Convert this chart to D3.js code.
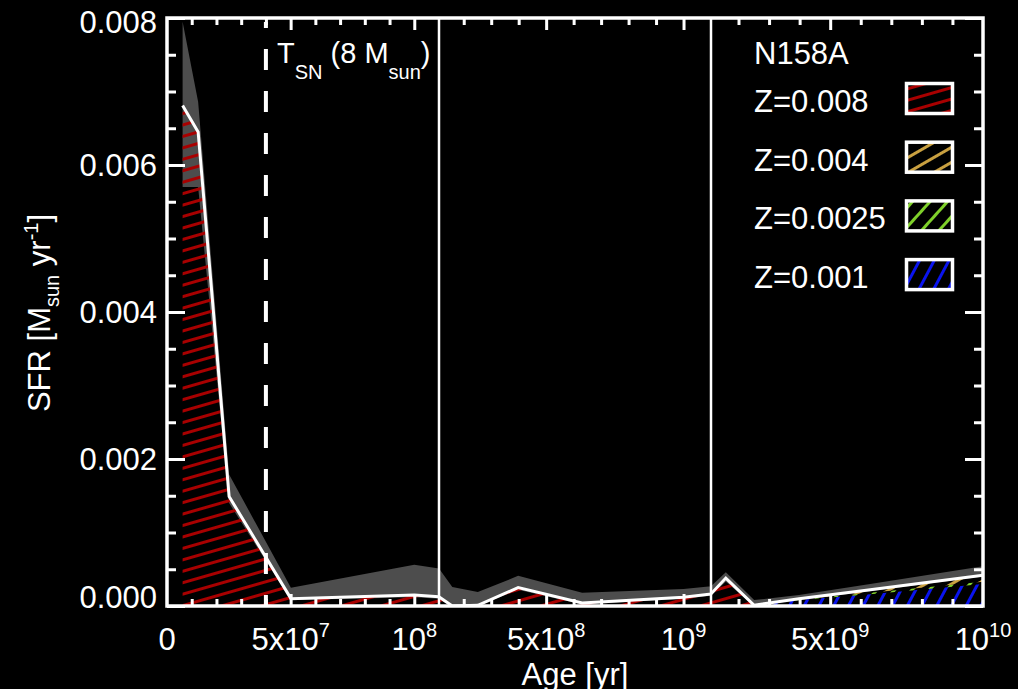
<!DOCTYPE html>
<html>
<head>
<meta charset="utf-8">
<script src="https://cdn.jsdelivr.net/npm/d3@7"></script>
<style>
  body { margin: 0; background: #000; }
  text { font-family: "Liberation Sans", Arial, sans-serif; fill: #fff; }
</style>
</head>
<body>
<script>
// star formation history, log age bins
var logAge   = [6.8, 7.1, 7.4, 7.7, 8.0, 8.2, 8.4, 8.6, 8.8, 9.0, 9.2, 9.4, 9.6, 9.8, 10.0]
var sfrTotal = [0.00681, 0.00645, 0.00149, 0.00010, 0.00015, 0.0, 0.00001, 0.00025, 0.00004, 0.00012, 0.00038, 0.00001, 0.00010, 0.00022, 0.00042]
var sfrHigh  = [0.00795, 0.00686, 0.00179, 0.00025, 0.00056, 0.00026, 0.00019, 0.00041, 0.00018, 0.00023, 0.00046, 0.00008, 0.00015, 0.00030, 0.00054]
var sfrLow   = [0.00570, 0.00570, 0.00140, 0.00008, 0.00012, 0.0, 0.0, 0.00022, 0.00002, 0.00010, 0.00033, 0.0, 0.00008, 0.00020, 0.00040]
// metallicity components (stacked, lowest Z at the bottom)
var sfrZ001  = [0, 0, 0, 0, 0, 0, 0, 0, 0, 0, 0, 0, 0.00008, 0.00016, 0.00030]
var sfrZ0025 = [0, 0, 0, 0, 0, 0, 0, 0, 0, 0, 0, 0, 0.00001, 0.00002, 0.00003]
var sfrZ004  = [0, 0, 0, 0, 0, 0, 0, 0, 0, 0, 0, 0, 0.00001, 0.00004, 0.00009]
var sfrZ008  = [0.00680, 0.00644, 0.00148, 0.00010, 0.00014, 0.0, 0.00001, 0.00025, 0.00004, 0.00012, 0.00038, 0.00001, 0, 0, 0]

var zNames = ["Z=0.008", "Z=0.004", "Z=0.0025", "Z=0.001"]
var zKeys = ["z001", "z0025", "z004", "z008"]

var xTickVals = [0, 5e7, 1e8, 5e8, 1e9, 5e9, 1e10]
var xTickBase = ["0", "5x10", "10", "5x10", "10", "5x10", "10"]
var xTickExp  = ["", "7", "8", "8", "9", "9", "10"]
var yTickVals = [0, 0.002, 0.004, 0.006, 0.008]

var tSN = 4e7 // lifetime of an 8 Msun star

var width = 1018, height = 689
var plotL = 167, plotR = 983, plotT = 18, plotB = 606

var data = logAge.map(function(a, i) {
    return {
        age: Math.pow(10, a),
        total: sfrTotal[i], high: sfrHigh[i], low: sfrLow[i],
        z001: sfrZ001[i], z0025: sfrZ0025[i], z004: sfrZ004[i], z008: sfrZ008[i]
    }
})

var svg = d3.select("body").append("svg")
    .attr("width", width).attr("height", height)
svg.append("rect").attr("width", width).attr("height", height).attr("fill", "#000")

var defs = svg.append("defs")

// hatch patterns
var hatch = {
    z008:  {color: "#a80000", angle: -16, gap: 11},
    z004:  {color: "#c9a040", angle: -30, gap: 13},
    z0025: {color: "#7fd02a", angle: -48, gap: 13},
    z001:  {color: "#0a14ee", angle: -62, gap: 13}
}
Object.keys(hatch).forEach(function(k) {
    var h = hatch[k]
    var p = defs.append("pattern")
        .attr("id", "hatch-" + k)
        .attr("patternUnits", "userSpaceOnUse")
        .attr("width", 40).attr("height", h.gap)
        .attr("patternTransform", "rotate(" + h.angle + ")")
    p.append("line")
        .attr("x1", 0).attr("x2", 40)
        .attr("y1", h.gap / 2).attr("y2", h.gap / 2)
        .attr("stroke", h.color).attr("stroke-width", 3)
})

var y = d3.scaleLinear().domain([0, 0.008]).range([plotB, plotT])

var panelW = (plotR - plotL) / 3
var panels = [
    {domain: [0, 1.1e8], minor: d3.range(1, 11).map(function(d) { return d * 1e7 })},
    {domain: [1.1e8, 1.1e9], minor: d3.range(2, 11).map(function(d) { return d * 1e8 })},
    {domain: [1.1e9, 1e10], minor: d3.range(2, 10).map(function(d) { return d * 1e9 })}
]

var stack = d3.stack().keys(zKeys)
var series = stack(data)

function whiteTicks(s) {
    s.select(".domain").remove()
    s.selectAll("line").attr("stroke", "#fff").attr("stroke-width", 3)
}

panels.forEach(function(p, i) {
    var x0 = plotL + i * panelW
    p.x = d3.scaleLinear().domain(p.domain).range([x0, x0 + panelW])

    defs.append("clipPath").attr("id", "clip" + i)
        .append("rect")
        .attr("x", x0).attr("y", plotT)
        .attr("width", panelW).attr("height", plotB - plotT)

    var g = svg.append("g").attr("clip-path", "url(#clip" + i + ")")
    var x = p.x

    // uncertainty band
    g.append("path").datum(data)
        .attr("fill", "#4d4d4d")
        .attr("d", d3.area()
            .x(function(d) { return x(d.age) })
            .y0(function(d) { return y(d.low) })
            .y1(function(d) { return y(d.high) }))

    // hatched metallicity components
    g.selectAll(".zarea").data(series).join("path")
        .attr("class", "zarea")
        .attr("fill", function(s) { return "url(#hatch-" + s.key + ")" })
        .attr("d", d3.area()
            .x(function(d) { return x(d.data.age) })
            .y0(function(d) { return y(d[0]) })
            .y1(function(d) { return y(d[1]) }))

    // total SFR
    g.append("path").datum(data)
        .attr("fill", "none").attr("stroke", "#fff").attr("stroke-width", 3)
        .attr("d", d3.line()
            .x(function(d) { return x(d.age) })
            .y(function(d) { return y(d.total) }))

    // ticks
    var major = xTickVals.filter(function(v) { return v > p.domain[0] && v < p.domain[1] })
    var minor = p.minor.filter(function(v) { return major.indexOf(v) < 0 && v < p.domain[1] })
    ;[[d3.axisBottom, plotB], [d3.axisTop, plotT]].forEach(function(a) {
        svg.append("g").attr("transform", "translate(0," + a[1] + ")")
            .call(a[0](x).tickValues(minor).tickSize(-7).tickFormat(""))
            .call(whiteTicks)
        svg.append("g").attr("transform", "translate(0," + a[1] + ")")
            .call(a[0](x).tickValues(major).tickSize(-12).tickFormat(""))
            .call(whiteTicks)
    })
})

// T_SN dashed line
var xp0 = panels[0].x
svg.append("line")
    .attr("x1", xp0(tSN)).attr("x2", xp0(tSN))
    .attr("y1", plotT + 4).attr("y2", plotB)
    .attr("stroke", "#fff").attr("stroke-width", 4)
    .attr("stroke-dasharray", "21,21")
    .attr("stroke-dashoffset", 15)

// panel separators
;[panels[0].x(1.1e8), panels[1].x(1.1e9)].forEach(function(px) {
    svg.append("line")
        .attr("x1", px).attr("x2", px).attr("y1", plotT).attr("y2", plotB)
        .attr("stroke", "#fff").attr("stroke-width", 2.5)
})

// y axes (left and right)
var yMinor = d3.range(1, 16).map(function(d) { return d * 0.0005 }).filter(function(v, i) { return (i + 1) % 4 != 0 })
;[[d3.axisLeft, plotL], [d3.axisRight, plotR]].forEach(function(a) {
    svg.append("g").attr("transform", "translate(" + a[1] + ",0)")
        .call(a[0](y).tickValues(yMinor).tickSize(-9).tickFormat(""))
        .call(whiteTicks)
    svg.append("g").attr("transform", "translate(" + a[1] + ",0)")
        .call(a[0](y).tickValues(yTickVals).tickSize(-18).tickFormat(""))
        .call(whiteTicks)
})

// frame
svg.append("rect")
    .attr("x", plotL).attr("y", plotT)
    .attr("width", plotR - plotL).attr("height", plotB - plotT)
    .attr("fill", "none").attr("stroke", "#fff").attr("stroke-width", 3.5)

// y tick labels (end labels kept inside the frame height)
svg.selectAll(".ylab").data(yTickVals).join("text")
    .attr("class", "ylab")
    .attr("x", 157)
    .attr("y", function(d, i) { return y(d) + (i == 0 ? -9 : i == yTickVals.length - 1 ? 4 : 0) })
    .attr("dy", "0.36em")
    .attr("text-anchor", "end")
    .style("font-size", "31px")
    .text(d3.format(".3f"))

// x tick labels
xTickVals.forEach(function(v, i) {
    var p = panels.find(function(p) { return v >= p.domain[0] && v <= p.domain[1] })
    var t = svg.append("text")
        .attr("x", p.x(v)).attr("y", 650)
        .attr("text-anchor", "middle")
        .style("font-size", "31px")
    t.append("tspan").text(xTickBase[i])
    if (xTickExp[i]) t.append("tspan").attr("dy", -13).style("font-size", "20px").text(xTickExp[i])
})

// axis titles
svg.append("text")
    .attr("x", 575).attr("y", 685)
    .attr("text-anchor", "middle")
    .style("font-size", "31px")
    .text("Age [yr]")

var yt = svg.append("text")
    .attr("transform", "translate(50,313) rotate(-90)")
    .attr("text-anchor", "middle")
    .style("font-size", "31px")
yt.append("tspan").text("SFR [M")
yt.append("tspan").attr("dy", 9).style("font-size", "20px").text("sun")
yt.append("tspan").attr("dy", -9).text(" yr")
yt.append("tspan").attr("dy", -12).style("font-size", "20px").text("-1")
yt.append("tspan").attr("dy", 12).text("]")

// T_SN label
var ts = svg.append("text")
    .attr("x", 277).attr("y", 63)
    .style("font-size", "29px")
ts.append("tspan").text("T")
ts.append("tspan").attr("dy", 16).style("font-size", "20px").text("SN")
ts.append("tspan").attr("dy", -16).text(" (8 M")
ts.append("tspan").attr("dy", 16).style("font-size", "20px").text("sun")
ts.append("tspan").attr("dy", -16).text(")")

// legend
svg.append("text")
    .attr("x", 754).attr("y", 64)
    .style("font-size", "31px")
    .text("N158A")

var legKeys = ["z008", "z004", "z0025", "z001"]
var leg = svg.selectAll(".leg").data(zNames).join("g")
    .attr("class", "leg")
    .attr("transform", function(d, i) { return "translate(0," + (i * 58.7) + ")" })
leg.append("text")
    .attr("x", 754).attr("y", 112)
    .style("font-size", "31px")
    .text(function(d) { return d })
leg.append("rect")
    .attr("x", 906.5).attr("y", 83.5)
    .attr("width", 46).attr("height", 30)
    .attr("fill", function(d, i) { return "url(#hatch-" + legKeys[i] + ")" })
    .attr("stroke", "#fff").attr("stroke-width", 3.5)
</script>
</body>
</html>
